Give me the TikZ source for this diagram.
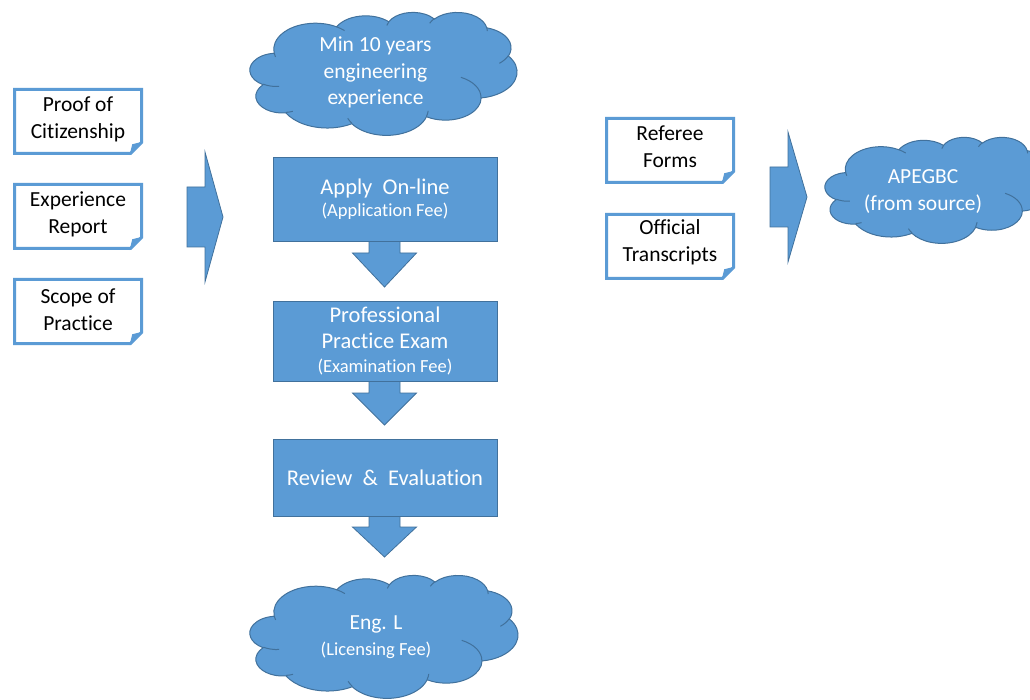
\documentclass[tikz,border=0pt]{standalone}
\usepackage{tikz}
\usepackage{fontspec}
\setmainfont{Carlito}[Ligatures={NoCommon,NoContextual}]
\usetikzlibrary{calc,backgrounds}
\definecolor{offblue}{HTML}{5B9BD5}
\definecolor{offdark}{HTML}{41719C}

% ---- Office-style cloud outline (path units 0..4320) ----
\gdef\cloudmain{}
\gdef\cloudinner{}
\newcommand\oarcang[4]{%
  \pgfmathsetmacro\oarcA{atan2(#1*sin(#3),#2*cos(#3))}%
  \pgfmathsetmacro\oarcB{atan2(#1*sin(#3+#4),#2*cos(#3+#4))}%
  \pgfmathsetmacro\oarcB{\oarcA+mod(\oarcB-\oarcA+720,360)}}
\newcommand\addmain[4]{\oarcang{#1}{#2}{#3}{#4}%
  \xdef\cloudmain{\cloudmain arc[x radius=#1,y radius=#2,start angle=\oarcA,end angle=\oarcB]}}
\newcommand\addinner[6]{\oarcang{#3}{#4}{#5}{#6}%
  \xdef\cloudinner{\cloudinner (#1,#2) arc[x radius=#3,y radius=#4,start angle=\oarcA,end angle=\oarcB]}}
\addmain{675.3}{919.0}{-190.48748}{123.78053}
\addmain{533.3}{726.7}{-144.10238}{89.94523}
\addmain{436.5}{594.5}{-145.80792}{99.72302}
\addmain{485.7}{659.5}{-130.98607}{117.24173}
\addmain{533.3}{727.3}{-78.70888}{109.02692}
\addmain{677.5}{922.0}{-46.26725}{130.269}
\addmain{578.5}{786.7}{0.62502}{114.03333}
\addmain{675.2}{921.5}{22.4516}{115.17255}
\addmain{772.0}{1054.3}{66.24263}{75.71102}
\addmain{436.0}{591.8}{-274.94208}{146.73557}
\addmain{434.5}{594.5}{-246.8285}{152.51885}
\addinner{469.3}{2617.7}{434.5}{594.5}{86.742}{26.4295}
\addinner{692.8}{3489.9}{436.0}{591.8}{73.6105}{11.4475}
\addinner{1647.8}{3909.0}{675.2}{921.5}{137.6242}{14.0811}
\addinner{2882.7}{3475.1}{675.2}{921.5}{6.4533}{15.9984}
\addinner{3412.9}{2295.4}{578.5}{786.7}{-70.2924}{70.9174}
\addinner{4179.8}{1535.4}{533.3}{727.3}{30.3180}{27.7515}
\addinner{3832.4}{542.6}{485.7}{659.5}{-13.7443}{14.8589}
\addinner{2907.8}{395.2}{485.7}{659.5}{-149.1815}{18.1954}
\addinner{2214.1}{472.0}{436.5}{594.5}{-163.4943}{17.6864}
\addinner{1400.0}{519.2}{675.3}{919.0}{-66.7070}{12.3194}
\addinner{412.7}{1578.9}{675.3}{919.0}{157.6544}{11.8582}

\newcommand\drawcloud[4]{% left top width height (px)
  \begin{scope}[shift={(#1,#2)}, x={(#3/4320*1pt,0pt)}, y={(0pt,-#4/4320*1pt)}]
    \filldraw[cloudfill] (390,1437) \cloudmain -- cycle;
    \draw[cloudedge] \cloudinner;
  \end{scope}}

% folded-corner document frame behind a text node: name, top offset, bottom offset
\newcommand\docframe[3]{%
  \begin{pgfonlayer}{background}
  \filldraw[docline] ($(#1.center)+(-63.5,#2)$) -- ($(#1.center)+(63.5,#2)$)
    -- ($(#1.center)+(63.5,#3-11)$) -- ($(#1.center)+(52.5,#3)$)
    -- ($(#1.center)+(-63.5,#3)$) -- cycle;
  \filldraw[docfold] ($(#1.center)+(52.5,#3)$) -- ($(#1.center)+(54.7,#3-8.8)$)
    -- ($(#1.center)+(63.5,#3-11)$) -- cycle;
  \end{pgfonlayer}}

% block arrows
\newcommand\blockdown[4]{% xc ytop yhead ytip
  \filldraw[blockarrow] (#1-15.5,#2) -- (#1+15.5,#2) -- (#1+15.5,#3) -- (#1+32,#3)
    -- (#1,#4) -- (#1-32,#3) -- (#1-15.5,#3) -- cycle;}
\newcommand\blockright[4]{% xleft xhead xtip yc
  \filldraw[blockarrow] (#1,#4-30) -- (#2,#4-30) -- (#2,#4-65) -- (#3,#4)
    -- (#2,#4+65) -- (#2,#4+30) -- (#1,#4+30) -- cycle;}

\tikzset{
  cloudfill/.style={fill=offblue, draw=offdark, line width=1pt},
  cloudedge/.style={draw=offdark, line width=1pt},
  docline/.style={fill=white, draw=offblue, line width=3pt, line join=miter},
  docfold/.style={fill=offblue, draw=offblue, line width=1pt},
  blockarrow/.style={fill=offblue, draw=offdark, line width=0.8pt, line join=miter},
  bluebox/.style={fill=offblue, draw=offdark, line width=0.8pt, text=white,
    align=center, inner sep=0pt, minimum width=224pt,
    font=\fontsize{22.5pt}{28pt}\selectfont},
  doctext/.style={align=center, inner sep=0pt, text=black},
  cloudtext/.style={align=center, inner sep=0pt, text=white},
  every node/.style={font=\fontsize{21.5pt}{26.5pt}\selectfont},
}
\newcommand\smallfee{\fontsize{18.5pt}{22pt}\selectfont}

\begin{document}
\begin{tikzpicture}[x=1pt, y=-1pt]
\path[use as bounding box, clip] (0,0) rectangle (1030,700);
\begin{pgfonlayer}{background}
\fill[white] (0,0) rectangle (1030,700);
\end{pgfonlayer}

% left documents
\node[doctext] (proof) at (78,119.5) {Proof of\\Citizenship};
\node[doctext] (exper) at (78,214.5) {Experience\\Report};
\node[doctext] (scope) at (78,309.5) {Scope of\\Practice};
\docframe{proof}{-30}{34}
\docframe{exper}{-30}{34}
\docframe{scope}{-30}{34}

% right documents
\node[doctext] (referee) at (670,146.5) {Referee\\Forms};
\node[doctext] (transc) at (670,242.5) {Official\\Transcripts};
\docframe{referee}{-28}{36}
\docframe{transc}{-28}{36}

% big right arrows
\blockright{187}{205}{223}{217}
\blockright{770}{788}{807}{197}

% clouds
\drawcloud{250}{12}{267}{123}
\node[cloudtext] (exp) at (375.5,72.5) {Min 10 years\\engineering\\experience};
\drawcloud{250}{575}{268}{123}
\node[cloudtext] (engl) at (376,637) {Eng. L\\[-1pt]{\smallfee (Licensing Fee)}};
\drawcloud{825}{137}{228}{106}
\node[cloudtext] (apeg) at (923,191.5) {APEGBC\\(from source)};

% down arrows
\blockdown{384.5}{241}{253}{287}
\blockdown{384.5}{381}{393}{425}
\blockdown{384.5}{516}{527}{557}

% process boxes
\node[bluebox, minimum height=84pt] (apply) at (385,199)
  {\raisebox{-2pt}{Apply\ \ On-line}\\[-4pt]{\smallfee (Application Fee)}};
\node[bluebox, minimum height=80pt] (prof) at (385,341)
  {\raisebox{-2pt}{Professional}\\[0pt]Practice Exam\\[-4pt]{\smallfee (Examination Fee)}};
\node[bluebox, minimum height=77pt] (review) at (385,477.5)
  {Review \ \& \ Evaluation};
\end{tikzpicture}
\end{document}
